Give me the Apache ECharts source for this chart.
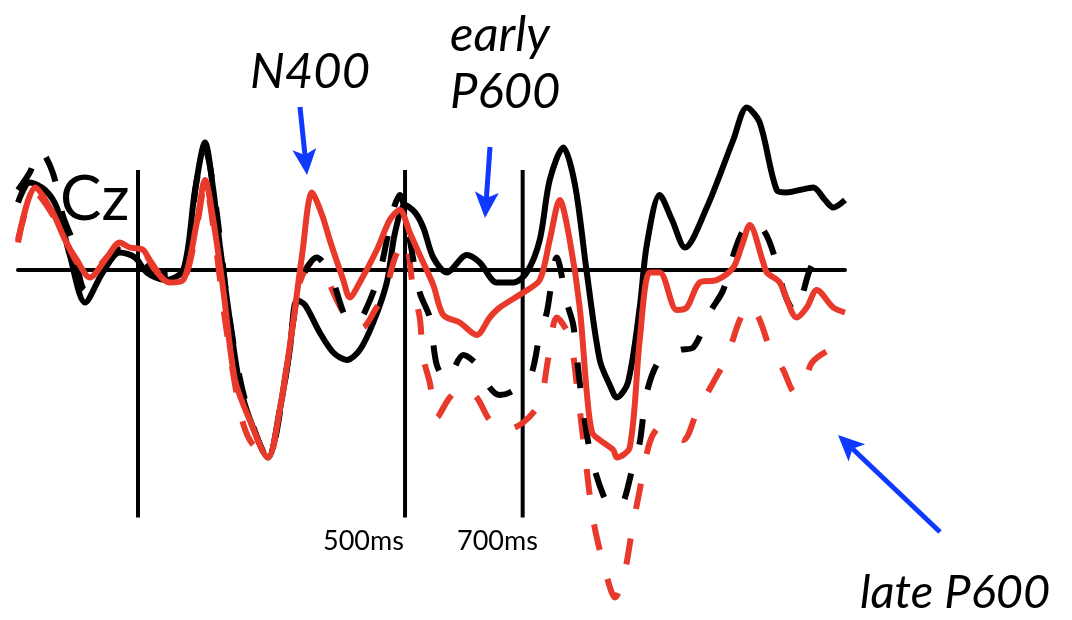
<!DOCTYPE html>
<html>
<head>
<meta charset="utf-8">
<script src="https://cdn.jsdelivr.net/npm/echarts@6/dist/echarts.min.js"></script>
<style>
  html, body { margin: 0; padding: 0; background: #fff; }
  #chart { width: 1072px; height: 620px; }
</style>
</head>
<body>
<div id="chart"></div>
<script>
// ERP at Cz, time in ms, amplitude in microvolts (positive plotted down)
var blackSolid = [[-158,-2.7],[-138,-3.5],[-112,-3.2],[-92,-2.5],[-70,-0.6],[-44,1.3],[-14,0.1],[15,-0.7],[41,-0.5],[61,0.1],[92,0.4],[123,0],[143,-3.2],[160,-5.1],[174,-3.2],[185,-1.0],[202,2.0],[219,4.6],[240,6.2],[267,7.5],[287,5.6],[304,3.2],[316,1.2],[330,1.4],[355,2.5],[378,3.3],[401,3.6],[423,3.2],[446,2.1],[469,0.5],[483,-1.5],[500,-2.6],[517,-2.3],[531,-1.7],[548,-0.5],[571,0.1],[605,-0.6],[627,-0.3],[656,0.5],[684,0.5],[707,0.1],[729,-1.2],[746,-3.6],[769,-4.9],[789,-3.4],[809,0.1],[831,3.6],[848,4.6],[860,5.1],[879,4.5],[899,1.5],[911,-1.0],[933,-3.0],[954,-2.0],[976,-0.9],[1013,-2.5],[1058,-5.2],[1081,-6.5],[1103,-5.9],[1132,-3.2],[1149,-3.1],[1171,-3.2],[1194,-3.3],[1214,-2.8],[1228,-2.5],[1248,-2.8]];

var redSolid = [[-158,-1.1],[-129,-3.3],[-99,-2.3],[-78,-1.2],[-58,-0.4],[-36,0.3],[-7,-0.5],[15,-1.1],[32,-0.9],[55,-0.8],[72,-0.1],[100,0.5],[123,0.4],[146,-1.9],[160,-3.6],[174,-2.0],[191,0.8],[211,4.4],[236,6.0],[267,7.5],[287,5.6],[308,2.4],[325,-0.6],[342,-3.1],[359,-2.2],[372,-1.2],[395,0.4],[406,1.1],[423,0.5],[452,-0.8],[474,-2.0],[491,-2.4],[508,-1.5],[525,-0.6],[548,0.6],[565,1.8],[593,2.1],[622,2.6],[644,1.9],[661,1.5],[701,0.9],[729,0.4],[746,-1.2],[763,-2.8],[780,-1.2],[797,1.5],[809,4.9],[818,6.5],[831,6.8],[854,7.2],[860,7.5],[882,7.1],[899,2.8],[916,0.1],[933,0.1],[962,1.6],[979,1.5],[1001,0.5],[1030,0.4],[1058,-0.1],[1073,-1.0],[1086,-1.8],[1109,-0.3],[1115,0.1],[1137,0.5],[1166,1.9],[1183,1.5],[1200,0.8],[1228,1.5],[1248,1.7]];

var blackDashed = [[-158,-3.2],[-138,-3.9],[-121,-4.8],[-99,-3.9],[-82,-2.2],[-66,-1.2],[-44,0.8],[-19,-0.1],[15,-0.8],[49,-0.5],[83,0.2],[123,0],[146,-3.6],[160,-4.8],[177,-2.8],[202,2.0],[228,5.2],[267,7.5],[296,4.4],[321,0.6],[350,-0.5],[372,0.1],[401,2.0],[418,2.1],[435,1.5],[457,0.1],[480,-2.4],[491,-3.0],[508,-1.2],[525,0.9],[542,1.9],[554,3.8],[571,4.4],[599,3.4],[627,3.9],[644,4.7],[661,5.0],[678,4.9],[712,4.3],[729,2.6],[741,1.7],[758,-0.5],[775,1.3],[786,2.2],[797,4.5],[814,7.2],[837,9.0],[854,9.5],[869,9.4],[886,8.0],[899,6.9],[911,4.9],[933,3.6],[967,3.2],[990,3.1],[1018,1.7],[1041,0.8],[1061,-0.8],[1078,-1.7],[1095,-1.9],[1112,-1.5],[1126,-0.7],[1146,1.0],[1163,1.7],[1188,0],[1202,-0.5],[1222,-0.6]];

var redDashed = [[-158,-1.2],[-129,-3.1],[-99,-2.2],[-58,-0.3],[-36,0.2],[-7,-0.5],[24,-1.0],[55,-0.7],[100,0.5],[126,0.3],[148,-2.0],[160,-3.5],[177,-1.2],[194,2.0],[219,5.6],[236,6.8],[267,7.5],[287,5.6],[308,2.4],[321,0.5],[342,-0.3],[364,0.2],[384,1.2],[406,2.1],[427,2.3],[449,1.6],[466,0.9],[483,-0.5],[500,-1.2],[514,0.8],[525,1.9],[531,3.5],[542,4.5],[554,5.9],[576,5.1],[599,4.7],[622,5.1],[644,6.0],[670,6.4],[701,6.1],[729,5.3],[743,3.6],[758,1.9],[780,2.7],[794,5.0],[806,7.4],[820,10.0],[840,12.0],[857,13.1],[874,12.0],[886,10.4],[899,8.8],[916,6.9],[933,6.3],[950,6.5],[973,6.8],[996,5.7],[1024,4.5],[1047,3.5],[1069,2.0],[1086,1.4],[1103,2.0],[1120,3.1],[1143,4.0],[1163,4.9],[1180,4.4],[1192,3.7],[1222,3.2],[1248,3.1]];

// vertical reference lines (ms) and their extent (uV)
var markerTimes = [46, 500, 700];
var markerSpan = [-4.0, 9.9];

var RED = '#e8392b';
var BLUE = '#1039ff';
var FONT = 'Lato, "Open Sans", sans-serif';

function wave(data, color, dashed, z) {
  return {
    type: 'line',
    data: data,
    smooth: 0.3,
    symbol: 'none',
    z: z,
    silent: true,
    lineStyle: { color: color, width: 6, type: dashed ? [26, 30] : 'solid', cap: 'butt' }
  };
}

var series = markerTimes.map(function (t) {
  return {
    type: 'line', symbol: 'none', silent: true, z: 1,
    data: [[t, markerSpan[0]], [t, markerSpan[1]]],
    lineStyle: { color: '#000', width: 4 }
  };
});
series.push(wave(blackSolid, '#000', false, 2));
series.push(wave(redDashed, RED, true, 3));
series.push(wave(blackDashed, '#000', true, 4));
series.push(wave(redSolid, RED, false, 5));

function arrow(x1, y1, x2, y2) {
  var dx = x2 - x1, dy = y2 - y1, L = Math.hypot(dx, dy);
  var ux = dx / L, uy = dy / L, nx = -uy, ny = ux;
  var head = 26, half = 12, notch = 20;
  var bx = x2 - ux * head, by = y2 - uy * head;
  var mx = x2 - ux * notch, my = y2 - uy * notch;
  return [
    { type: 'line', z: 100, shape: { x1: x1, y1: y1, x2: mx, y2: my }, style: { stroke: BLUE, lineWidth: 5 } },
    { type: 'polygon', z: 100, shape: { points: [[x2, y2], [bx + nx * half, by + ny * half], [mx, my], [bx - nx * half, by - ny * half]] }, style: { fill: BLUE } }
  ];
}

function label(text, x, y, size, italic) {
  return {
    type: 'text', x: x, y: y, z: 0,
    style: {
      text: text, fill: '#000',
      font: (italic ? 'italic ' : '') + size + 'px ' + FONT,
      align: 'left', verticalAlign: 'middle'
    }
  };
}

var graphics = [
  label('Cz', 60, 200, 62, false),
  label('N400', 250, 72, 49, true),
  label('early', 450, 35, 49, true),
  label('P600', 450, 92, 49, true),
  label('late P600', 860, 593, 47, true),
  label('500ms', 323, 541, 27, false),
  label('700ms', 457, 541, 27, false)
].concat(arrow(300, 107, 307, 175), arrow(490, 147, 485, 218), arrow(940, 532, 838, 435));

var myChart = echarts.init(document.getElementById('chart'));
myChart.setOption({
  animation: false,
  backgroundColor: '#fff',
  grid: { left: 18, right: 227, top: 95, bottom: 0 },
  xAxis: {
    type: 'value', min: -158, max: 1248,
    axisLine: { show: true, onZero: true, lineStyle: { color: '#000', width: 4 } },
    axisTick: { show: false }, axisLabel: { show: false }, splitLine: { show: false }
  },
  yAxis: {
    type: 'value', min: -7, max: 14, inverse: true,
    axisLine: { show: false }, axisTick: { show: false }, axisLabel: { show: false }, splitLine: { show: false }
  },
  graphic: graphics,
  series: series
});
</script>
</body>
</html>
